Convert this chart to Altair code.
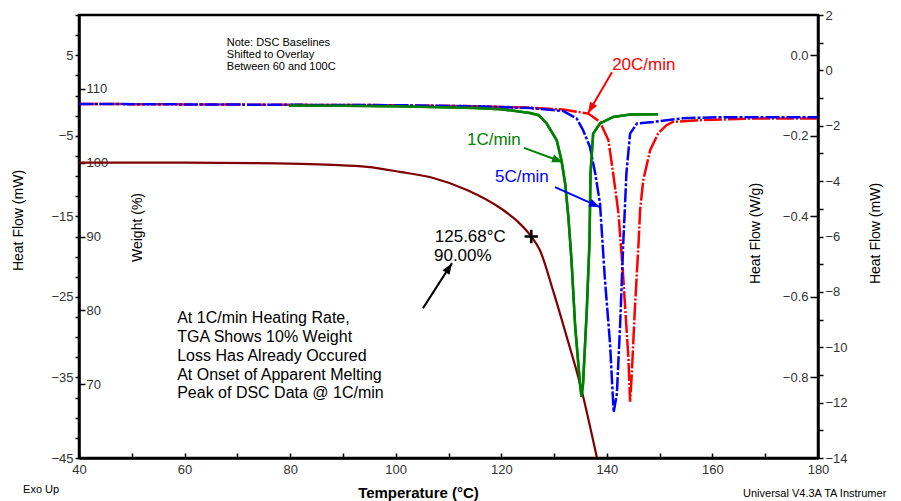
import math
import altair as alt
import pandas as pd

FONT = "Liberation Sans"

# ---------------- data ----------------
# DSC curves: temperature (°C) and heat flow on the left (mW) axis
T_1C = [79.8, 90.0, 100.0, 106.9, 115.0, 120.0, 125.4, 127.1, 128.6, 130.5, 131.4, 132.1,
        132.7, 133.3, 134.0, 134.9, 135.2, 135.5, 136.2, 136.7, 136.8, 136.9, 137.4, 138.7,
        141.2, 144.4, 149.7]
HF_1C = [-1.24, -1.28, -1.33, -1.41, -1.55, -1.70, -2.16, -2.44, -3.47, -5.55, -8.03, -10.92,
         -15.0, -20.43, -28.7, -35.7, -37.4, -35.7, -26.6, -18.4, -14.2, -9.7, -4.72, -3.47,
         -2.65, -2.36, -2.32]

T_5C = [40, 60, 80, 100, 115, 125.4, 131.7, 134.3, 135.5, 136.8, 137.8, 138.7, 139.6, 140.6,
        141.2, 141.3, 141.9, 142.5, 143.1, 143.4, 143.7, 144.4, 145.7, 148.8, 151.3, 154.4,
        160.9, 179.8]
HF_5C = [-1.04, -1.10, -1.15, -1.20, -1.33, -1.55, -1.91, -2.86, -4.31, -6.38, -9.68, -13.4,
         -22.5, -30.8, -38.2, -39.3, -37.0, -28.7, -18.4, -14.2, -9.68, -4.72, -3.47, -3.27,
         -3.06, -2.82, -2.69, -2.69]

T_20C = [40, 60, 80, 100, 115, 125.4, 131.7, 136.5, 138.7, 140.3, 141.2, 142.2, 143.1, 144.1,
         144.4, 144.7, 145.3, 146.0, 146.3, 146.9, 148.2, 149.7, 151.3, 152.5, 157.6, 167.1,
         179.8]
HF_20C = [-1.04, -1.10, -1.15, -1.20, -1.33, -1.50, -1.74, -2.24, -3.27, -5.55, -9.68, -14.6,
          -22.5, -32.8, -38.0, -34.9, -26.6, -18.4, -14.2, -10.5, -6.79, -4.72, -3.68, -3.27,
          -3.06, -2.86, -2.86]

# TGA curve: temperature (°C) and weight (%)
T_TGA = [40, 60, 82.0, 88.0, 94.6, 100.8, 107.1, 113.5, 119.8, 123.0, 125.68, 127.3, 129.8,
         132.4, 134.9, 138.1]
WT_TGA = [100.0, 100.0, 99.83, 99.7, 99.42, 98.75, 97.93, 96.31, 93.86, 92.1, 90.0, 88.17,
          82.7, 76.4, 70.1, 60.1]

# axis domains and ticks
X_DOMAIN = [40, 180]
MW_DOMAIN = [-45, 10]
WT_DOMAIN = [60, 120]
WG_DOMAIN = [-1.0, 0.1]
MW2_DOMAIN = [-14, 2]

X_LABELS = list(range(40, 181, 20))
X_TICKS = list(range(40, 181, 10))
MW_TICKS = [-45 + 2.5 * i for i in range(23)]
WT_TICKS = [70, 80, 90, 100, 110]
WG_TICKS = [0.0, -0.2, -0.4, -0.6, -0.8]
MW2_TICKS = list(range(-14, 3))

# annotations (temperature, left-axis mW)
NOTE = ["Note: DSC Baselines", "Shifted to Overlay", "Between 60 and 100C"]
BLOCK = ["At 1C/min Heating Rate,", "TGA Shows 10% Weight", "Loss Has Already Occured",
         "At Onset of Apparent Melting", "Peak of DSC Data @ 1C/min"]

TEXTS = (
    [dict(T=68.0, HF=v, text=t, color="#000000", size=11) for t, v in zip(NOTE, [6.49, 5.05, 3.51])]
    + [dict(T=58.6, HF=v, text=t, color="#000000", size=16)
       for t, v in zip(BLOCK, [-27.63, -29.99, -32.34, -34.70, -36.94])]
    + [
        dict(T=141.0, HF=3.76, text="20C/min", color="#ff0000", size=17),
        dict(T=113.5, HF=-5.55, text="1C/min", color="#008000", size=17),
        dict(T=118.8, HF=-10.14, text="5C/min", color="#0000ff", size=17),
        dict(T=107.4, HF=-17.58, text="125.68°C", color="#000000", size=17),
        dict(T=107.25, HF=-19.94, text="90.00%", color="#000000", size=17),
        dict(T=29.4, HF=-48.97, text="Exo Up", color="#000000", size=11),
        dict(T=165.8, HF=-49.5, text="Universal V4.3A TA Instrumer", color="#000000", size=11),
    ]
)

ARROWS = [
    dict(T1=140.97, H1=2.89, T2=136.43, H2=-2.20, color="#ff0000"),
    dict(T1=124.3, H1=-6.5, T2=131.69, H2=-8.28, color="#008000"),
    dict(T1=130.18, H1=-11.38, T2=138.70, H2=-13.86, color="#0000ff"),
    dict(T1=105.17, H1=-26.39, T2=110.66, H2=-20.81, color="#000000"),
]

CROSS_T, CROSS_W = 125.68, 90.0

# ---------------- geometry ----------------
W, H = 739, 443
PX_T = W / (X_DOMAIN[1] - X_DOMAIN[0])
PX_MW = H / (MW_DOMAIN[1] - MW_DOMAIN[0])

xs = alt.Scale(domain=X_DOMAIN, nice=False, zero=False)
ys_mw = alt.Scale(domain=MW_DOMAIN, nice=False, zero=False)
ys_wt = alt.Scale(domain=WT_DOMAIN, nice=False, zero=False)
ys_wg = alt.Scale(domain=WG_DOMAIN, nice=False, zero=False)
ys_mw2 = alt.Scale(domain=MW2_DOMAIN, nice=False, zero=False)

# ---------------- axes ----------------
ax_x_bottom = alt.Axis(
    values=X_LABELS, ticks=False, labelPadding=5, labelFlush=False, labelOverlap=False,
    title="Temperature (°C)", titleFontWeight="bold", titleFontSize=15,
    titleX=339, titleY=34, titleAlign="center", titleBaseline="middle",
)
ax_x_ticks = alt.Axis(
    orient="top", offset=-H, values=X_TICKS, labels=False, domain=False, tickSize=5, title="",
)
ax_mw = alt.Axis(
    orient="left", values=MW_TICKS, tickSize=4, labelPadding=2, labelOverlap=False,
    labelFlush=False,
    labelExpr="(datum.value - 5) % 10 == 0 ? format(datum.value, 'd') : ''",
    title="Heat Flow (mW)", titleX=-61, titleY=205, titleAngle=270,
    titleAlign="center", titleBaseline="middle",
)
ax_wt = alt.Axis(
    orient="right", offset=-W, values=WT_TICKS, domain=False, tickSize=6, labelPadding=1,
    labelOverlap=False, labelFlush=False,
    title="Weight (%)", titleX=58, titleY=212, titleAngle=270,
    titleAlign="center", titleBaseline="middle",
)
ax_wg = alt.Axis(
    orient="left", offset=-W, values=WG_TICKS, domain=False, tickSize=8, labelPadding=2,
    labelOverlap=False, labelFlush=False, format=".1f",
    title="Heat Flow (W/g)", titleX=-63, titleY=218, titleAngle=270,
    titleAlign="center", titleBaseline="middle",
)
ax_mw2 = alt.Axis(
    orient="right", values=MW2_TICKS, tickSize=5, labelPadding=2, labelOverlap=False,
    labelFlush=False,
    labelExpr="datum.value % 2 == 0 ? format(datum.value, 'd') : ''",
    title="Heat Flow (mW)", titleX=57, titleY=218, titleAngle=270,
    titleAlign="center", titleBaseline="middle",
)


def dsc_layer(T, HF, color, dash=None, x_axis=None, y_axis=None):
    df = pd.DataFrame({"T": T, "HF": HF, "i": list(range(len(T)))})
    kw = dict(color=color, strokeWidth=2.5)
    if dash is not None:
        kw["strokeDash"] = dash
    return alt.Chart(df).mark_line(**kw).encode(
        x=alt.X("T:Q", scale=xs, axis=x_axis),
        y=alt.Y("HF:Q", scale=ys_mw, axis=y_axis),
        order=alt.Order("i:Q"),
    )


red = dsc_layer(T_20C, HF_20C, "#ff0000", dash=[18, 2, 2, 2])
blue = dsc_layer(T_5C, HF_5C, "#0000ff", dash=[14, 2, 3, 2])
green = dsc_layer(T_1C, HF_1C, "#008000", x_axis=ax_x_bottom, y_axis=ax_mw)

tga_df = pd.DataFrame({"T": T_TGA, "W": WT_TGA})
tga = alt.Chart(tga_df).mark_line(color="#800000", strokeWidth=2.2, interpolate="monotone").encode(
    x=alt.X("T:Q", scale=xs, axis=None),
    y=alt.Y("W:Q", scale=ys_wt, axis=ax_wt),
)

cross = alt.Chart(pd.DataFrame({"T": [CROSS_T], "W": [CROSS_W]})).mark_point(
    shape="M-1,0L1,0M0,-1L0,1", size=180, strokeWidth=2.6, color="black", filled=False,
    opacity=1,
).encode(
    x=alt.X("T:Q", scale=xs, axis=None),
    y=alt.Y("W:Q", scale=ys_wt, axis=None),
)

wg_axis = alt.Chart(pd.DataFrame({"T": [100.0] * len(WG_TICKS), "v": WG_TICKS})).mark_point(
    opacity=0
).encode(
    x=alt.X("T:Q", scale=xs, axis=ax_x_ticks),
    y=alt.Y("v:Q", scale=ys_wg, axis=ax_wg),
)
mw2_axis = alt.Chart(pd.DataFrame({"T": [100.0] * len(MW2_TICKS), "v": MW2_TICKS})).mark_point(
    opacity=0
).encode(
    x=alt.X("T:Q", scale=xs, axis=None),
    y=alt.Y("v:Q", scale=ys_mw2, axis=ax_mw2),
)

# arrows
rows_shaft, rows_head = [], []
for a in ARROWS:
    dx = (a["T2"] - a["T1"]) * PX_T
    dy = -(a["H2"] - a["H1"]) * PX_MW
    L = math.hypot(dx, dy)
    ux, uy = dx / L, dy / L
    ang = math.degrees(math.atan2(dx, -dy)) % 360
    back = 5.5
    rows_shaft.append(dict(T1=a["T1"], H1=a["H1"], T2=a["T2"], H2=a["H2"], color=a["color"]))
    rows_head.append(dict(T=a["T2"] - ux * back / PX_T, H=a["H2"] + uy * back / PX_MW,
                          angle=ang, color=a["color"]))

shafts = alt.Chart(pd.DataFrame(rows_shaft)).mark_rule(strokeWidth=2).encode(
    x=alt.X("T1:Q", scale=xs, axis=None), x2="T2:Q",
    y=alt.Y("H1:Q", scale=ys_mw, axis=None), y2="H2:Q",
    color=alt.Color("color:N", scale=None),
)
heads = alt.Chart(pd.DataFrame(rows_head)).mark_point(
    shape="M0,-1L0.75,1L-0.75,1Z", filled=True, size=121, opacity=1
).encode(
    x=alt.X("T:Q", scale=xs, axis=None),
    y=alt.Y("H:Q", scale=ys_mw, axis=None),
    angle=alt.Angle("angle:Q", scale=None),
    color=alt.Color("color:N", scale=None),
)

texts = alt.Chart(pd.DataFrame(TEXTS)).mark_text(
    align="left", baseline="middle", font=FONT
).encode(
    x=alt.X("T:Q", scale=xs, axis=None),
    y=alt.Y("HF:Q", scale=ys_mw, axis=None),
    text="text:N",
    color=alt.Color("color:N", scale=None),
    size=alt.Size("size:Q", scale=None),
)

green_top = dsc_layer(T_1C, HF_1C, "#008000")

chart = (
    alt.layer(green, tga, red, blue, green_top, wg_axis, mw2_axis, shafts, heads, cross, texts)
    .resolve_scale(x="independent", y="independent")
    .properties(
        width=W, height=H,
        autosize=alt.AutoSizeParams(type="none"),
        padding={"left": 79, "top": 15, "right": 83, "bottom": 43},
        background="white",
    )
    .configure_view(stroke="black", strokeWidth=2.5)
    .configure_axis(
        domainColor="black", domainWidth=2.5, tickColor="black", tickWidth=1.5,
        labelFont=FONT, labelFontSize=13, labelColor="#333333",
        titleFont=FONT, titleFontSize=14, titleFontWeight="normal", titleColor="black",
        grid=False,
    )
)

chart.save("out.html", embed_options={"renderer": "svg", "actions": False})
